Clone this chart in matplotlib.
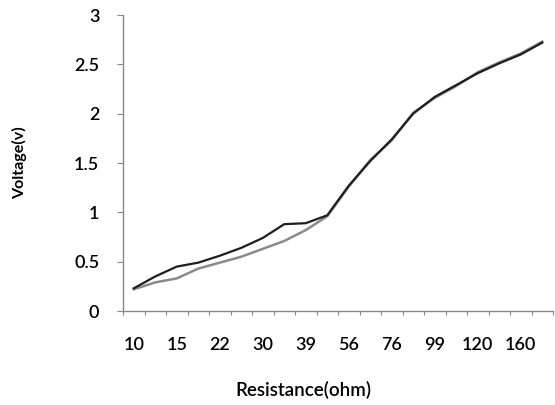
import matplotlib
matplotlib.use("Agg")
import matplotlib.pyplot as plt

# resistor values (every other one is labelled on the axis)
resistance = ["10", "12", "15", "18", "22", "27", "30", "33", "39", "47",
              "56", "68", "76", "82", "99", "110", "120", "150", "160", "180"]
# two voltage curves
volt_measured = [0.23, 0.35, 0.45, 0.49, 0.56, 0.64, 0.74, 0.88, 0.89, 0.97,
                 1.27, 1.52, 1.74, 2.00, 2.17, 2.29, 2.41, 2.51, 2.60, 2.72]
volt_theory = [0.22, 0.29, 0.33, 0.43, 0.49, 0.55, 0.63, 0.71, 0.82, 0.96,
               1.26, 1.53, 1.73, 2.01, 2.16, 2.28, 2.42, 2.52, 2.61, 2.73]
yticks = [0, 0.5, 1, 1.5, 2, 2.5, 3]
ytick_labels = ["0", "0.5", "1", "1.5", "2", "2.5", "3"]

plt.rcParams['font.family'] = ['Lato', 'DejaVu Sans']

fig = plt.figure(figsize=(5.55, 4.05), dpi=100)
ax = fig.add_axes([123/555, 1-311/405, 430/555, 296/405])

x = list(range(len(resistance)))
ax.plot(x, volt_theory, color='#8a8a8a', lw=1.8)
ax.plot(x, volt_measured, color='#1e1e1e', lw=1.6)

ax.set_xlim(-0.5, len(resistance) - 0.5)
ax.set_ylim(0, 3)

ax.set_xticks(x[::2])
ax.set_xticklabels(resistance[::2], fontsize=13, fontweight='semibold')
ax.set_xticks([i - 0.5 for i in range(len(resistance) + 1)], minor=True)
ax.tick_params(axis='x', which='major', length=0, pad=19)
ax.tick_params(axis='x', which='minor', length=3, color='#888888', width=0.8)

ax.set_yticks(yticks)
ax.set_yticklabels(ytick_labels, fontsize=13, fontweight='semibold')
ax.tick_params(axis='y', length=4, color='#888888', width=0.8, pad=13)

for s in ['top', 'right']:
    ax.spines[s].set_visible(False)
for s in ['left', 'bottom']:
    ax.spines[s].set_color('#888888')
    ax.spines[s].set_linewidth(1.0)

ax.set_xlabel("Resistance(ohm)", fontsize=13.5, fontweight='semibold')
ax.xaxis.set_label_coords((303-123)/430, -(381-311)/296)
ax.set_ylabel("Voltage(v)", fontsize=11.5, fontweight='bold')
ax.yaxis.set_label_coords(-(123-27)/430, (311-163)/296)

fig.savefig("out.png", dpi=100)
